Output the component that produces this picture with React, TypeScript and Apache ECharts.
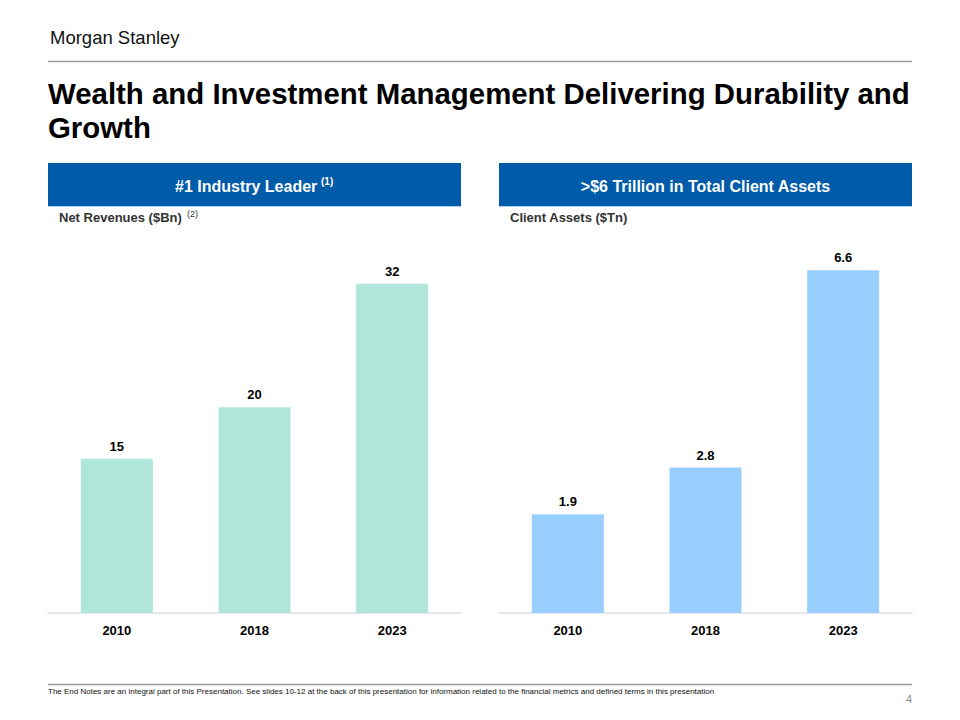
import React, { useEffect, useRef } from "react";
import * as echarts from "echarts";

const years = ["2010", "2018", "2023"];
const netRevenues = [15, 20, 32];
const clientAssets = [1.9, 2.8, 6.6];
const revenueLabels = ["15", "20", "32"];
const assetLabels = ["1.9", "2.8", "6.6"];

const FONT = '"Liberation Sans", Arial, Helvetica, sans-serif';
const BLUE = "#005BA8";

export default function App() {
  const ref = useRef<HTMLDivElement>(null);
  useEffect(() => {
    if (!ref.current) return;
    const chart = echarts.init(ref.current, null, { renderer: "svg" });
    const labelStyle = {
      show: true,
      position: "top",
      distance: 6,
      fontFamily: FONT,
      fontWeight: "bold",
      fontSize: 13,
      color: "#000",
    };
    const xAxisCommon = {
      type: "category",
      data: years,
      axisTick: { show: false },
      axisLine: { show: true, lineStyle: { color: "#E6E6EC", width: 2 } },
      axisLabel: {
        fontFamily: FONT,
        fontWeight: "bold",
        fontSize: 13,
        color: "#000",
        margin: 11,
      },
    };
    const yAxisCommon = {
      type: "value",
      min: 0,
      show: false,
      splitLine: { show: false },
    };
    chart.setOption({
      animation: false,
      backgroundColor: "#fff",
      textStyle: { fontFamily: FONT },
      grid: [
        { left: 48, width: 413, top: 253, height: 360 },
        { left: 499, width: 413, top: 253, height: 360 },
      ],
      xAxis: [
        { ...xAxisCommon, gridIndex: 0 },
        { ...xAxisCommon, gridIndex: 1 },
      ],
      yAxis: [
        { ...yAxisCommon, gridIndex: 0, max: 35 },
        { ...yAxisCommon, gridIndex: 1, max: 6.93 },
      ],
      series: [
        {
          type: "bar",
          xAxisIndex: 0,
          yAxisIndex: 0,
          data: netRevenues,
          barWidth: 72,
          itemStyle: { color: "#B0E6DA" },
          label: { ...labelStyle, formatter: (p: any) => revenueLabels[p.dataIndex] },
        },
        {
          type: "bar",
          xAxisIndex: 1,
          yAxisIndex: 1,
          data: clientAssets,
          barWidth: 72,
          itemStyle: { color: "#99CFFF" },
          label: { ...labelStyle, formatter: (p: any) => assetLabels[p.dataIndex] },
        },
      ],
      graphic: [
        {
          type: "text",
          x: 50,
          y: 37,
          style: {
            text: "Morgan Stanley",
            fontFamily: FONT,
            fontSize: 18.5,
            fill: "#111",
            textVerticalAlign: "middle",
          },
        },
        {
          type: "line",
          shape: { x1: 48, y1: 61.5, x2: 912, y2: 61.5 },
          style: { stroke: "#9A9A9A", lineWidth: 1.5 },
        },
        {
          type: "text",
          x: 48,
          y: 93,
          style: {
            text: "Wealth and Investment Management Delivering Durability and",
            fontFamily: FONT,
            fontWeight: "bold",
            fontSize: 29.4,
            fill: "#000",
            textVerticalAlign: "middle",
          },
        },
        {
          type: "text",
          x: 48,
          y: 127,
          style: {
            text: "Growth",
            fontFamily: FONT,
            fontWeight: "bold",
            fontSize: 29.4,
            fill: "#000",
            textVerticalAlign: "middle",
          },
        },
        {
          type: "rect",
          shape: { x: 48, y: 163, width: 413, height: 43 },
          style: { fill: BLUE },
        },
        {
          type: "rect",
          shape: { x: 499, y: 163, width: 413, height: 43 },
          style: { fill: BLUE },
        },
        {
          type: "line",
          shape: { x1: 48, y1: 206.5, x2: 461, y2: 206.5 },
          style: { stroke: "#A9D0F0", lineWidth: 1 },
        },
        {
          type: "line",
          shape: { x1: 499, y1: 206.5, x2: 912, y2: 206.5 },
          style: { stroke: "#A9D0F0", lineWidth: 1 },
        },
        {
          type: "text",
          x: 175,
          y: 186,
          style: {
            text: "#1 Industry Leader",
            fontFamily: FONT,
            fontWeight: "bold",
            fontSize: 16,
            fill: "#fff",
            textVerticalAlign: "middle",
          },
        },
        {
          type: "text",
          x: 321,
          y: 181,
          style: {
            text: "(1)",
            fontFamily: FONT,
            fontWeight: "bold",
            fontSize: 10,
            fill: "#fff",
            textVerticalAlign: "middle",
          },
        },
        {
          type: "text",
          x: 705.5,
          y: 186,
          style: {
            text: ">$6 Trillion in Total Client Assets",
            fontFamily: FONT,
            fontWeight: "bold",
            fontSize: 16,
            fill: "#fff",
            textAlign: "center",
            textVerticalAlign: "middle",
          },
        },
        {
          type: "text",
          x: 59,
          y: 217,
          style: {
            text: "Net Revenues ($Bn)",
            fontFamily: FONT,
            fontWeight: "bold",
            fontSize: 13,
            fill: "#333",
            textVerticalAlign: "middle",
          },
        },
        {
          type: "text",
          x: 187,
          y: 213.5,
          style: {
            text: "(2)",
            fontFamily: FONT,
            fontSize: 9,
            fill: "#333",
            textVerticalAlign: "middle",
          },
        },
        {
          type: "text",
          x: 510,
          y: 217,
          style: {
            text: "Client Assets ($Tn)",
            fontFamily: FONT,
            fontWeight: "bold",
            fontSize: 13,
            fill: "#333",
            textVerticalAlign: "middle",
          },
        },
        {
          type: "line",
          shape: { x1: 48, y1: 684.5, x2: 912, y2: 684.5 },
          style: { stroke: "#9A9A9A", lineWidth: 1.5 },
        },
        {
          type: "text",
          x: 48,
          y: 691,
          style: {
            text:
              "The End Notes are an integral part of this Presentation. See slides 10-12 at the back of this presentation for information related to the financial metrics and defined terms in this presentation",
            fontFamily: FONT,
            fontSize: 8,
            fill: "#111",
            textVerticalAlign: "middle",
          },
        },
        {
          type: "text",
          x: 912,
          y: 699,
          style: {
            text: "4",
            fontFamily: FONT,
            fontSize: 11,
            fill: "#888",
            textAlign: "right",
            textVerticalAlign: "middle",
          },
        },
      ],
    });
    return () => chart.dispose();
  }, []);
  return (
    <div
      ref={ref}
      style={{ position: "absolute", left: 0, top: 0, width: 960, height: 720, background: "#fff" }}
    />
  );
}
